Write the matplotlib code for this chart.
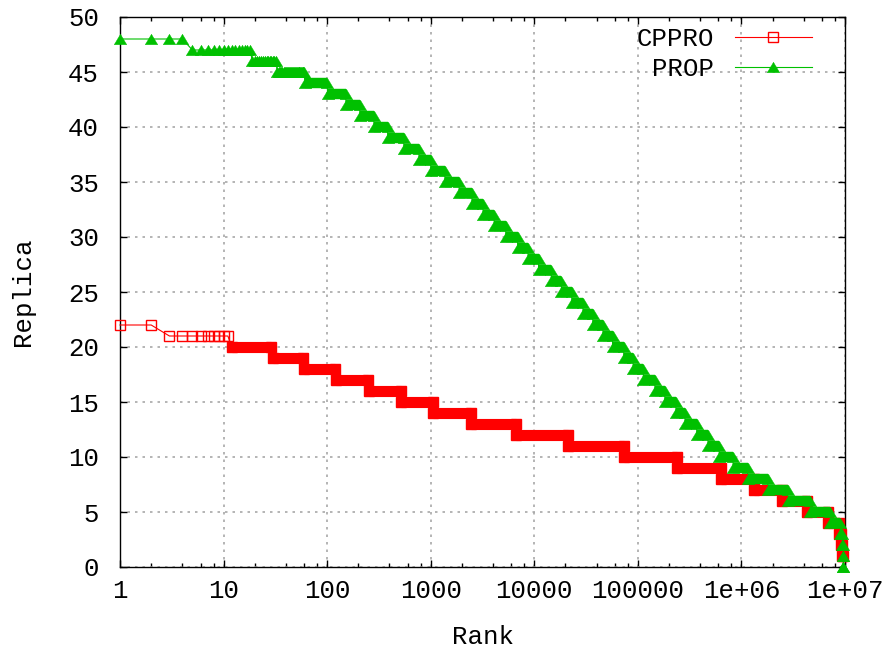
import matplotlib
matplotlib.use("Agg")
import matplotlib.pyplot as plt
import numpy as np
from matplotlib.lines import Line2D
from matplotlib.ticker import FixedLocator, LogLocator, NullFormatter

# === DATA (step levels) ===
TOTAL_RANK = 9650000

cppro_replicas = [22, 21, 20, 19, 18, 17, 16, 15, 14, 13, 12,
                  11, 10, 9, 8, 7, 6, 5, 4, 3, 2, 1]
cppro_starts = [1, 3, 12, 30, 60, 121, 251, 522, 1060, 2470, 6710,
                21300, 74000, 240000, 640000, 1330000, 2480000, 4330000,
                6900000, 8800000, 9200000, 9400000]

prop_replicas = [48, 47, 46, 45, 44, 43, 42, 41, 40, 39, 38, 37, 36, 35,
                 34, 33, 32, 31, 30, 29, 28, 27, 26, 25, 24, 23, 22, 21,
                 20, 19, 18, 17, 16, 15, 14, 13, 12, 11, 10, 9, 8, 7, 6,
                 5, 4, 3, 2, 1, 0]
prop_starts = [1, 5, 19, 33, 61, 101, 152, 207, 283, 384, 550, 770, 1000,
               1370, 1880, 2500, 3200, 4100, 5300, 6900, 8700, 11000, 14600,
               18300, 23000, 29500, 36700, 46000, 57000, 73000, 90000,
               113000, 146000, 182000, 233000, 285000, 370000, 475000,
               610000, 830000, 1150000, 1800000, 2800000, 4600000, 7100000,
               8900000, 9300000, 9500000, 9600000]

x_ticks = [1, 10, 100, 1000, 10000, 100000, 1000000, 10000000]
x_tick_labels = ["1", "10", "100", "1000", "10000", "100000", "1e+06", "1e+07"]
y_ticks = [0, 5, 10, 15, 20, 25, 30, 35, 40, 45, 50]

# === STYLE ===
DPI = 100
FONT_SIZE = 18.5
RED = "#ff0000"
GREEN = "#00c000"
GRID_COLOR = "#a8a8a8"
# triangle a bit flatter than matplotlib's '^'
TRIANGLE = [(0, 0.5), (-0.6, -0.5), (0.6, -0.5), (0, 0.5)]

plt.rcParams["font.family"] = ["Liberation Mono", "DejaVu Sans Mono"]
plt.rcParams["font.size"] = FONT_SIZE


def draw_series(ax, replicas, starts, color, marker_kw, band_lw, band_min):
    """Each replica level covers ranks [start, next_start - 1]."""
    ends = [s - 1 for s in starts[1:]] + [TOTAL_RANK]
    path_x, path_y = [], []
    for v, s, e in zip(replicas, starts, ends):
        path_x += [s, e]
        path_y += [v, v]
    ax.plot(path_x, path_y, color=color, lw=0.8, clip_on=False, zorder=3)

    for v, s, e in zip(replicas, starts, ends):
        n = e - s + 1
        kw = dict(marker_kw)
        if n >= band_min:
            # dense markers merge into a solid band
            ax.plot([s, e], [v, v], color=color, lw=band_lw,
                    solid_capstyle="butt", clip_on=False, zorder=4)
            pts = [s, e]
            kw["mfc"] = color
        else:
            pts = np.arange(s, e + 1)
        ax.plot(pts, [v] * len(pts), ls="none", clip_on=False, zorder=4, **kw)


fig = plt.figure(figsize=(891 / DPI, 653 / DPI), dpi=DPI)
ax = fig.add_axes([120 / 891, 86 / 653, 725 / 891, 550 / 653])

red_marker = dict(marker="s", ms=7, mfc="none", mec=RED, mew=1.0)
green_marker = dict(marker=TRIANGLE, ms=9, mfc=GREEN, mec=GREEN, mew=0.3)

draw_series(ax, cppro_replicas, cppro_starts, RED, red_marker,
            band_lw=8.0, band_min=12)
draw_series(ax, prop_replicas, prop_starts, GREEN, green_marker,
            band_lw=7.5, band_min=30)

ax.set_xscale("log")
ax.set_xlim(1, 1e7)
ax.set_ylim(0, 50)

ax.xaxis.set_major_locator(FixedLocator(x_ticks))
ax.set_xticklabels(x_tick_labels)
ax.xaxis.set_minor_locator(LogLocator(base=10, subs=(2, 4, 6, 8), numticks=20))
ax.xaxis.set_minor_formatter(NullFormatter())
ax.set_yticks(y_ticks)

ax.tick_params(which="both", direction="in", top=True, right=True, width=1)
ax.tick_params(which="major", length=5)
ax.tick_params(which="minor", length=3)
ax.tick_params(axis="x", pad=9)
ax.tick_params(axis="y", pad=15)

ax.grid(True, which="major", color=GRID_COLOR, ls=(0, (1.5, 3)), lw=1.2)
ax.set_axisbelow(True)
for sp in ax.spines.values():
    sp.set_linewidth(1.0)

ax.set_xlabel("Rank")
ax.set_ylabel("Replica")
ax.xaxis.set_label_coords(0.5, -0.105)
ax.yaxis.set_label_coords(-0.117, 0.5)

handles = [
    Line2D([0], [0], color=RED, lw=0.8, **red_marker),
    Line2D([0], [0], color=GREEN, lw=0.8, **green_marker),
]
ax.legend(handles, ["CPPRO", "PROP"], loc="upper right",
          bbox_to_anchor=(0.9545, 0.982), markerfirst=False, frameon=False,
          handlelength=3.0, handletextpad=0.8, borderpad=0,
          borderaxespad=0, labelspacing=0.22)

fig.savefig("out.png", dpi=DPI, facecolor="white")
plt.close(fig)
